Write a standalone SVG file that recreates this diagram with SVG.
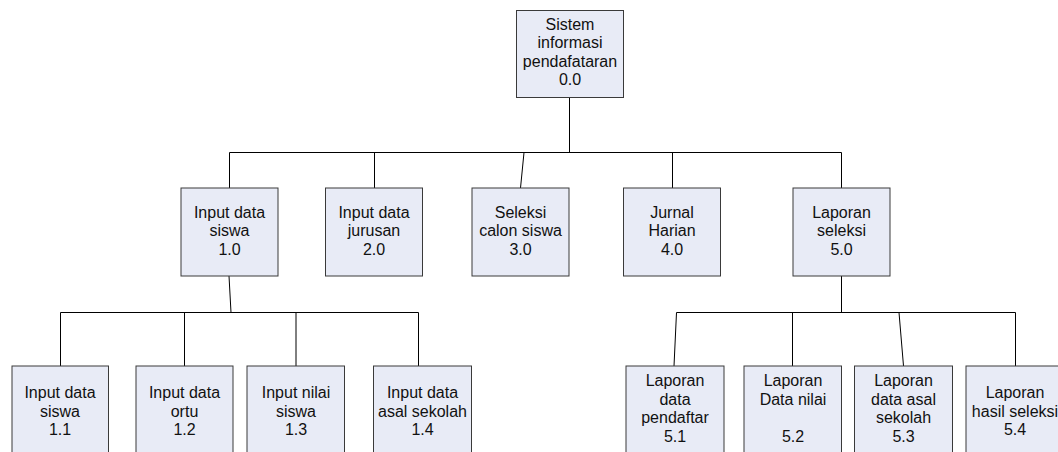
<svg xmlns="http://www.w3.org/2000/svg" width="1058" height="452" viewBox="0 0 1058 452">
<style>
.box{fill:#E8EBF6;stroke:#3a3a3a;stroke-width:1}
.lbl{font-family:"Liberation Sans",Arial,sans-serif;font-size:16px;fill:#111;text-anchor:middle}
.con{stroke:#000;stroke-width:1;fill:none}
</style>
<rect width="1058" height="452" fill="#fff"/>
<g id="connectors">
<path class="con" d="M569.5,97V152.5M229.5,152.5H841.5M229.5,152.5V188M374.5,152.5V188M524,152.5L520.5,188M672.5,152.5V188M841.5,152.5V188"/>
<path class="con" d="M229,276L231,312.5M60.5,312.5H418.5M60.5,312.5V366M184.5,312.5V366M296,312.5V366M418.5,312.5V366"/>
<path class="con" d="M841.5,276V312.5M676.5,312.5H1015.5M676.5,312.5L674,366M792.5,312.5V366M899,312.5L903.5,366M1015.5,312.5V366"/>
</g>
<g id="n0_0"><rect class="box" x="516.5" y="10.5" width="107" height="87"/>
<text class="lbl"><tspan x="570" y="29.5">Sistem</tspan><tspan x="570" y="48">informasi</tspan><tspan x="570" y="66.5">pendafataran</tspan><tspan x="570" y="85">0.0</tspan></text></g>
<g id="n1_0"><rect class="box" x="181" y="188" width="97" height="88"/>
<text class="lbl"><tspan x="229.5" y="217.5">Input data</tspan><tspan x="229.5" y="236">siswa</tspan><tspan x="229.5" y="254.5">1.0</tspan></text></g>
<g id="n2_0"><rect class="box" x="325.5" y="188" width="97" height="88"/>
<text class="lbl"><tspan x="374" y="217.5">Input data</tspan><tspan x="374" y="236">jurusan</tspan><tspan x="374" y="254.5">2.0</tspan></text></g>
<g id="n3_0"><rect class="box" x="472" y="188" width="97" height="88"/>
<text class="lbl"><tspan x="520.5" y="217.5">Seleksi</tspan><tspan x="520.5" y="236">calon siswa</tspan><tspan x="520.5" y="254.5">3.0</tspan></text></g>
<g id="n4_0"><rect class="box" x="623.5" y="188" width="97" height="88"/>
<text class="lbl"><tspan x="672" y="217.5">Jurnal</tspan><tspan x="672" y="236">Harian</tspan><tspan x="672" y="254.5">4.0</tspan></text></g>
<g id="n5_0"><rect class="box" x="793" y="188" width="97" height="88"/>
<text class="lbl"><tspan x="841.5" y="217.5">Laporan</tspan><tspan x="841.5" y="236">seleksi</tspan><tspan x="841.5" y="254.5">5.0</tspan></text></g>
<g id="n1_1"><rect class="box" x="12" y="366" width="96.5" height="92"/>
<text class="lbl"><tspan x="60" y="398">Input data</tspan><tspan x="60" y="416.5">siswa</tspan><tspan x="60" y="435">1.1</tspan></text></g>
<g id="n1_2"><rect class="box" x="136" y="366" width="97" height="92"/>
<text class="lbl"><tspan x="184.5" y="398">Input data</tspan><tspan x="184.5" y="416.5">ortu</tspan><tspan x="184.5" y="435">1.2</tspan></text></g>
<g id="n1_3"><rect class="box" x="247" y="366" width="97.5" height="92"/>
<text class="lbl"><tspan x="296" y="398">Input nilai</tspan><tspan x="296" y="416.5">siswa</tspan><tspan x="296" y="435">1.3</tspan></text></g>
<g id="n1_4"><rect class="box" x="373.5" y="366" width="98" height="92"/>
<text class="lbl"><tspan x="422.5" y="398">Input data</tspan><tspan x="422.5" y="416.5">asal sekolah</tspan><tspan x="422.5" y="435">1.4</tspan></text></g>
<g id="n5_1"><rect class="box" x="626" y="366" width="98" height="92"/>
<text class="lbl"><tspan x="675" y="386">Laporan</tspan><tspan x="675" y="404.5">data</tspan><tspan x="675" y="423">pendaftar</tspan><tspan x="675" y="441.5">5.1</tspan></text></g>
<g id="n5_2"><rect class="box" x="744" y="366" width="97.5" height="92"/>
<text class="lbl"><tspan x="793" y="386">Laporan</tspan><tspan x="793" y="404.5">Data nilai</tspan><tspan x="793" y="441.5">5.2</tspan></text></g>
<g id="n5_3"><rect class="box" x="854.5" y="366" width="98" height="92"/>
<text class="lbl"><tspan x="903.5" y="386">Laporan</tspan><tspan x="903.5" y="404.5">data asal</tspan><tspan x="903.5" y="423">sekolah</tspan><tspan x="903.5" y="441.5">5.3</tspan></text></g>
<g id="n5_4"><rect class="box" x="966" y="366" width="98" height="92"/>
<text class="lbl"><tspan x="1015" y="398">Laporan</tspan><tspan x="1015" y="416.5">hasil seleksi</tspan><tspan x="1015" y="435">5.4</tspan></text></g>
</svg>
